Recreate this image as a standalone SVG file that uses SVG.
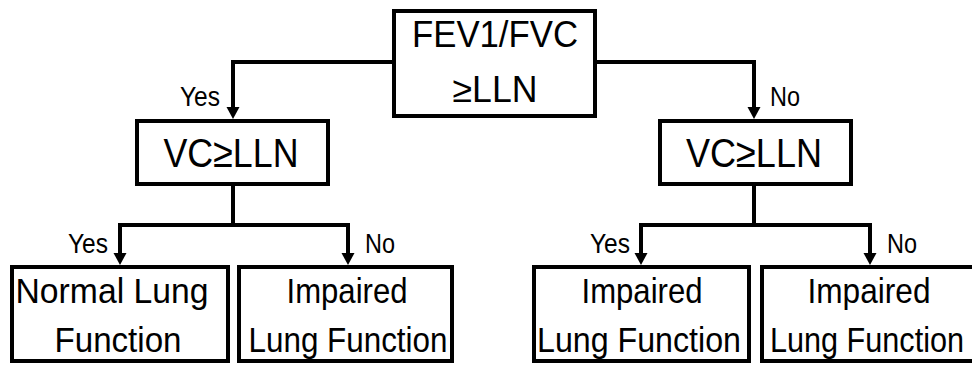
<svg xmlns="http://www.w3.org/2000/svg" width="972" height="365" viewBox="0 0 972 365">
<style>
.box{fill:#fff;stroke:#000;stroke-width:4}
.t{font-family:"Liberation Sans",Arial,sans-serif;fill:#000;text-anchor:middle}
.big{font-size:36px}
.mid{font-size:41px}
.sm{font-size:35px}
.lbl{font-family:"Liberation Sans",Arial,sans-serif;fill:#000;font-size:27px}
.c{fill:none;stroke:#000;stroke-width:4;marker-end:url(#ah)}
.c0{fill:none;stroke:#000;stroke-width:4}
</style>
<defs>
<marker id="ah" markerUnits="userSpaceOnUse" markerWidth="14" markerHeight="14" refX="4" refY="6.5" orient="auto">
<path d="M0,0 L12,6.5 L0,13 z" fill="#000"/>
</marker>
</defs>
<rect width="972" height="365" fill="#fff"/>
<g id="connectors">
<path class="c" d="M394,62 H233 V111"/>
<path class="c" d="M595,62 H754 V111"/>
<path class="c0" d="M233,184 V225"/>
<path class="c" d="M233,225 H120 V257"/>
<path class="c" d="M233,225 H348 V257"/>
<path class="c0" d="M754,184 V225"/>
<path class="c" d="M754,225 H641 V257"/>
<path class="c" d="M754,225 H870 V257"/>
<text class="lbl" x="180" y="106" textLength="40" lengthAdjust="spacingAndGlyphs">Yes</text>
<text class="lbl" x="770" y="106" textLength="30" lengthAdjust="spacingAndGlyphs">No</text>
<text class="lbl" x="68" y="253" textLength="40" lengthAdjust="spacingAndGlyphs">Yes</text>
<text class="lbl" x="365" y="253" textLength="30" lengthAdjust="spacingAndGlyphs">No</text>
<text class="lbl" x="590" y="253" textLength="40" lengthAdjust="spacingAndGlyphs">Yes</text>
<text class="lbl" x="887" y="253" textLength="30" lengthAdjust="spacingAndGlyphs">No</text>
</g>
<g id="root">
<rect class="box" x="394" y="11" width="201" height="105"/>
<text class="t big" x="495" y="47" textLength="166" lengthAdjust="spacingAndGlyphs">FEV1/FVC</text>
<text class="t big" x="495" y="102" textLength="85" lengthAdjust="spacingAndGlyphs">≥LLN</text>
</g>
<g id="vc-left">
<rect class="box" x="137" y="121" width="191" height="63"/>
<text class="t mid" x="231" y="167" textLength="135" lengthAdjust="spacingAndGlyphs">VC≥LLN</text>
</g>
<g id="vc-right">
<rect class="box" x="660" y="121" width="191" height="63"/>
<text class="t mid" x="754" y="167" textLength="136" lengthAdjust="spacingAndGlyphs">VC≥LLN</text>
</g>
<g id="normal">
<rect class="box" x="12" y="267" width="216" height="94"/>
<text class="t sm" x="112" y="303" textLength="193" lengthAdjust="spacingAndGlyphs">Normal Lung</text>
<text class="t sm" x="118" y="352" textLength="127" lengthAdjust="spacingAndGlyphs">Function</text>
</g>
<g id="impaired-1">
<rect class="box" x="239" y="267" width="213" height="94"/>
<text class="t sm" x="347" y="303" textLength="121" lengthAdjust="spacingAndGlyphs">Impaired</text>
<text class="t sm" x="348" y="352" textLength="199" lengthAdjust="spacingAndGlyphs">Lung Function</text>
</g>
<g id="impaired-2">
<rect class="box" x="534" y="267" width="215" height="94"/>
<text class="t sm" x="642" y="303" textLength="121" lengthAdjust="spacingAndGlyphs">Impaired</text>
<text class="t sm" x="639" y="352" textLength="204" lengthAdjust="spacingAndGlyphs">Lung Function</text>
</g>
<g id="impaired-3">
<rect class="box" x="762" y="267" width="216" height="94"/>
<text class="t sm" x="869" y="303" textLength="123" lengthAdjust="spacingAndGlyphs">Impaired</text>
<text class="t sm" x="867" y="352" textLength="194" lengthAdjust="spacingAndGlyphs">Lung Function</text>
</g>
</svg>
